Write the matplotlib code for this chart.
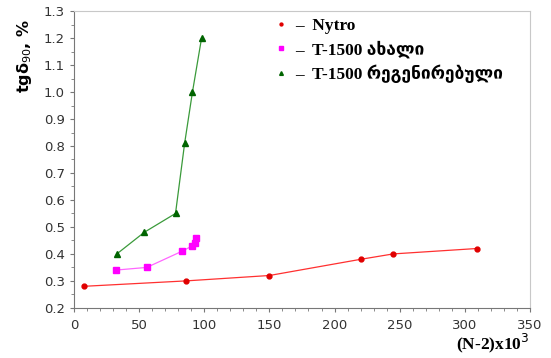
import numpy as np
import matplotlib
matplotlib.use('Agg')
import matplotlib.pyplot as plt
from matplotlib.ticker import MultipleLocator

plt.rcParams['font.family'] = ['DejaVu Sans']

# data
nytro_x = [8, 86, 150, 220, 245, 309]
nytro_y = [0.28, 0.30, 0.32, 0.38, 0.40, 0.42]
new_x = [32, 56, 83, 91, 93, 94]
new_y = [0.34, 0.35, 0.41, 0.43, 0.44, 0.46]
regen_x = [33, 54, 78, 85, 91, 98]
regen_y = [0.40, 0.48, 0.55, 0.81, 1.00, 1.20]
labels = ['–  Nytro', '–  T-1500 ახალი', '–  T-1500 რეგენირებული']

fig = plt.figure(figsize=(5.51, 3.58), dpi=100)
ax = fig.add_axes([0.134, 0.140, 0.828, 0.829])

ax.plot(nytro_x, nytro_y, color='#ff3030', lw=0.9, marker='o', ms=3.5,
        mfc='#e00000', mec='#e00000', label=labels[0])
ax.plot(new_x, new_y, color='#ff66ff', lw=0.9, marker='s', ms=5,
        mfc='#ff00ff', mec='#ff00ff', label=labels[1])
ax.plot(regen_x, regen_y, color='#3a9a3a', lw=0.9, marker='^', ms=4.5,
        mfc='#006400', mec='#006400', label=labels[2])

ax.set_xlim(0, 350)
ax.set_ylim(0.2, 1.3)
ax.xaxis.set_major_locator(MultipleLocator(50))
ax.xaxis.set_minor_locator(MultipleLocator(10))
ax.yaxis.set_major_locator(MultipleLocator(0.1))
ax.yaxis.set_minor_locator(MultipleLocator(0.05))
ax.yaxis.set_major_formatter(matplotlib.ticker.FormatStrFormatter('%.1f'))
ax.tick_params(labelsize=9.5, labelcolor='#333333', colors='#777777', length=3, width=0.8)
ax.tick_params(which='minor', length=2, width=0.6, colors='#777777')
ax.tick_params(axis='x', pad=5)
for s in ['top', 'right']:
    ax.spines[s].set_color('#c8c8c8')
for s in ['left', 'bottom']:
    ax.spines[s].set_color('#777777')

ax.set_ylabel('tgδ$_{90}$, %', fontsize=11.5, fontweight='bold')
ax.yaxis.set_label_coords(-0.087, 0.85)
fig.text(0.962, 0.008, '(N-2)x10$^3$', ha='right', va='bottom', fontsize=12.5,
         fontweight='bold', family=['Liberation Serif', 'DejaVu Serif'])

handles, lbls = ax.get_legend_handles_labels()
leg_handles = [plt.Line2D([], [], ls='none', marker=h.get_marker(), ms=h.get_markersize() * 0.6,
                          mfc=h.get_markerfacecolor(), mec=h.get_markeredgecolor()) for h in handles]
ax.legend(leg_handles, lbls, loc='upper left', bbox_to_anchor=(0.41, 1.03), frameon=False,
          handlelength=0.5, handletextpad=0.55, labelspacing=0.38,
          prop={'family': ['Liberation Serif', 'DejaVu Sans'], 'weight': 'bold', 'size': 12.5})

fig.savefig('out.png', dpi=100)
